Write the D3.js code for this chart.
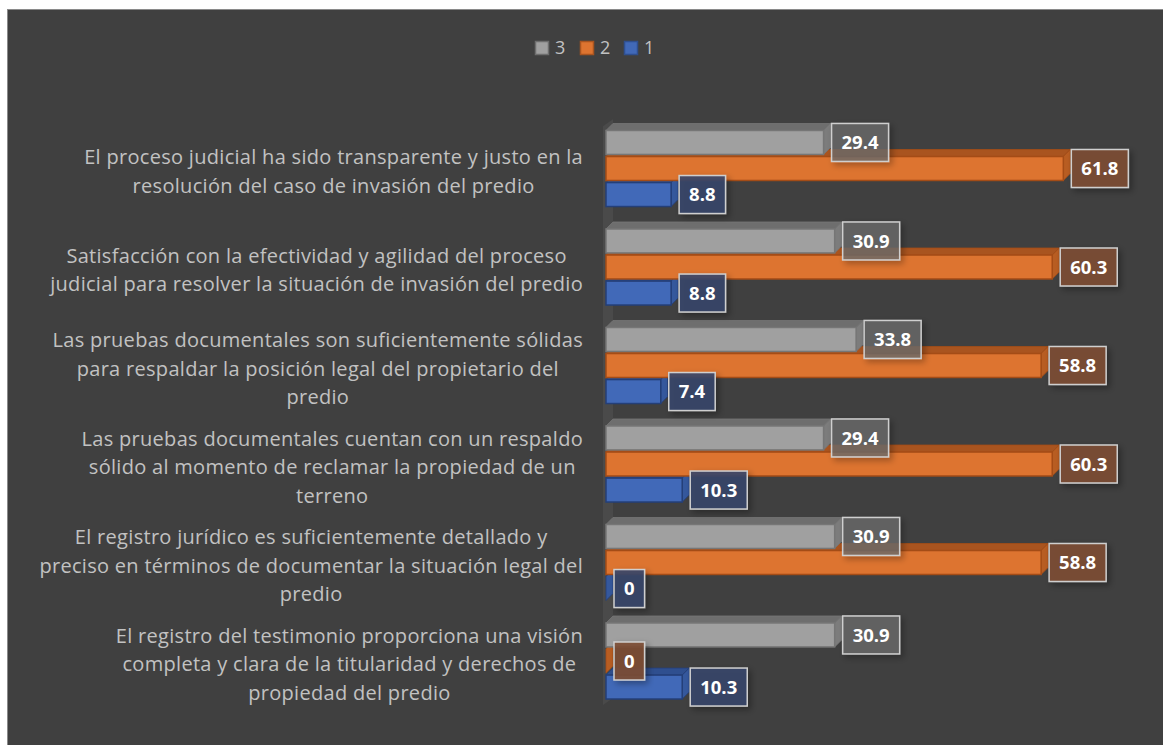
<!DOCTYPE html>
<html>
<head>
<meta charset="utf-8">
<script src="https://cdn.jsdelivr.net/npm/d3@7"></script>
<style>
  body { margin: 0; background: #ffffff; }
  svg { display: block; }
</style>
</head>
<body>
<div id="chart"></div>
<script>
// Категории (строки подписей сверху вниз)
const categories = [
    ["El proceso judicial ha sido transparente y justo en la", "resolución del caso de invasión del predio"],
    ["Satisfacción con la efectividad y agilidad del proceso", "judicial para resolver la situación de invasión del predio"],
    ["Las pruebas documentales son suficientemente sólidas", "para respaldar la posición legal del propietario del", "predio"],
    ["Las pruebas documentales cuentan con un respaldo", "sólido al momento de reclamar la propiedad de un", "terreno"],
    ["El registro jurídico es suficientemente detallado y", "preciso en términos de documentar la situación legal del", "predio"],
    ["El registro del testimonio proporciona una visión", "completa y clara de la titularidad y derechos de", "propiedad del predio"]
];

// Серии
const seriesNames = ["3", "2", "1"];
const values3 = [29.4, 30.9, 33.8, 29.4, 30.9, 30.9];
const values2 = [61.8, 60.3, 58.8, 60.3, 58.8, 0];
const values1 = [8.8, 8.8, 7.4, 10.3, 0, 10.3];

const seriesValues = {"3": values3, "2": values2, "1": values1};

// Цвета: лицевая грань, верх/бок, обводка, подложка подписи
const colors = {
    "3": {front: "#a0a0a0", top: "#6e6e6e", side: "#7c7c7c", stroke: "#767676", box: "rgba(110,110,110,0.75)"},
    "2": {front: "#dd7430", top: "#a9541f", side: "#b85d22", stroke: "#a44c16", box: "rgba(125,78,52,0.9)"},
    "1": {front: "#4169b8", top: "#2f4f8f", side: "#35589d", stroke: "#243f78", box: "rgba(55,70,105,0.9)"}
};

const width = 1163;
const height = 745;
const depth = 7; // глубина 3D-эффекта

const svg = d3.select('#chart').append('svg')
    .attr('width', width)
    .attr('height', height);

const defs = svg.append('defs');
defs.append('filter')
    .attr('id', 'shadow')
    .attr('x', '-30%').attr('y', '-30%').attr('width', '160%').attr('height', '160%')
    .append('feDropShadow')
    .attr('dx', 3).attr('dy', 3).attr('stdDeviation', 3)
    .attr('flood-color', '#000').attr('flood-opacity', 0.35);

// Фон области диаграммы
svg.append('rect')
    .attr('x', 7.5)
    .attr('y', 9.5)
    .attr('width', width)
    .attr('height', height)
    .attr('fill', '#404040')
    .attr('stroke', '#8a8a8a')
    .attr('stroke-width', 1);

// Шкалы
const xScale = d3.scaleLinear()
    .domain([0, 70])
    .range([606, 1124]);

const yScale = d3.scaleBand()
    .domain(d3.range(categories.length))
    .range([119.25, 710.25])
    .paddingInner(0.228)
    .paddingOuter(0.114);

const ySub = d3.scaleBand()
    .domain(seriesNames)
    .range([0, yScale.bandwidth()])
    .paddingInner(0.08);

// Боковая стенка (3D-ось)
const wallTop = yScale(0) - yScale.step() * yScale.paddingOuter();
const wallBottom = yScale(categories.length - 1) + yScale.bandwidth() + 6;
svg.append('polygon')
    .attr('points', [
        [xScale(0) - 3, wallTop + depth],
        [xScale(0) - 3 + depth + 3, wallTop],
        [xScale(0) - 3 + depth + 3, wallBottom - depth],
        [xScale(0) - 3, wallBottom]
    ].map(p => p.join(',')).join(' '))
    .attr('fill', '#4a4a4a');

// Столбцы: сначала нижняя серия, затем верхние
const drawOrder = ["1", "2", "3"];
const barGroup = svg.append('g');

categories.forEach((cat, i) => {
    drawOrder.forEach(s => {
        const v = seriesValues[s][i];
        const c = colors[s];
        const x0 = xScale(0);
        const x1 = xScale(v);
        const y0 = yScale(i) + ySub(s);
        const y1 = y0 + ySub.bandwidth();
        const g = barGroup.append('g');
        // верхняя грань
        g.append('polygon')
            .attr('points', [[x0, y0], [x0 + depth, y0 - depth], [x1 + depth, y0 - depth], [x1, y0]].map(p => p.join(',')).join(' '))
            .attr('fill', c.top)
            .attr('stroke', c.stroke)
            .attr('stroke-width', 0.8);
        // правая грань
        g.append('polygon')
            .attr('points', [[x1, y0], [x1 + depth, y0 - depth], [x1 + depth, y1 - depth], [x1, y1]].map(p => p.join(',')).join(' '))
            .attr('fill', c.side)
            .attr('stroke', c.stroke)
            .attr('stroke-width', 0.8);
        // лицевая грань
        if (v > 0) {
            g.append('rect')
                .attr('x', x0)
                .attr('y', y0)
                .attr('width', x1 - x0)
                .attr('height', y1 - y0)
                .attr('fill', c.front)
                .attr('stroke', c.stroke)
                .attr('stroke-width', 1.5);
        }
    });
});

// Подписи категорий
const labelRight = 583;
const lineHeight = 28.5;
const catGroup = svg.append('g')
    .style('font-family', '"Open Sans", sans-serif')
    .style('font-size', '20px')
    .style('letter-spacing', '0.3px')
    .style('fill', '#c2c2c2');

categories.forEach((lines, i) => {
    const cy = yScale(i) + yScale.bandwidth() / 2 + 3;
    const texts = lines.map((line, k) => catGroup.append('text')
        .attr('y', cy + (k - (lines.length - 1) / 2) * lineHeight)
        .attr('dy', '0.35em')
        .attr('text-anchor', 'middle')
        .text(line));
    const maxW = d3.max(texts, t => t.node().getComputedTextLength());
    texts.forEach(t => t.attr('x', labelRight - maxW / 2));
});

// Подписи значений
const valueGroup = svg.append('g');
categories.forEach((cat, i) => {
    seriesNames.forEach(s => {
        const v = seriesValues[s][i];
        const cy = yScale(i) + ySub(s) + ySub.bandwidth() / 2;
        const bx = xScale(v) + 8;
        const g = valueGroup.append('g');
        const rect = g.append('rect')
            .attr('fill', colors[s].box)
            .attr('stroke', '#cfcfcf')
            .attr('stroke-width', 1.5)
            .attr('filter', 'url(#shadow)');
        const t = g.append('text')
            .attr('y', cy)
            .attr('dy', '0.36em')
            .attr('text-anchor', 'middle')
            .style('font-family', '"Open Sans", sans-serif')
            .style('font-weight', '700')
            .style('font-size', '18.5px')
            .style('fill', '#ffffff')
            .text(String(v));
        const tw = t.node().getComputedTextLength();
        const bw = tw + 20;
        rect.attr('x', bx).attr('y', cy - 19).attr('width', bw).attr('height', 38);
        t.attr('x', bx + bw / 2);
    });
});

// Легенда
const legendItems = ["3", "2", "1"];
const legendX = [535, 580, 624];
const legend = svg.append('g');
legendItems.forEach((s, k) => {
    legend.append('rect')
        .attr('x', legendX[k] + 0.5)
        .attr('y', 41.5)
        .attr('width', 13)
        .attr('height', 13)
        .attr('fill', colors[s].front)
        .attr('stroke', colors[s].top)
        .attr('stroke-width', 1.5);
    legend.append('text')
        .attr('x', legendX[k] + 20)
        .attr('y', 48)
        .attr('dy', '0.36em')
        .style('font-family', '"Open Sans", sans-serif')
        .style('font-size', '18px')
        .style('fill', '#c2c2c2')
        .text(s);
});
</script>
</body>
</html>
